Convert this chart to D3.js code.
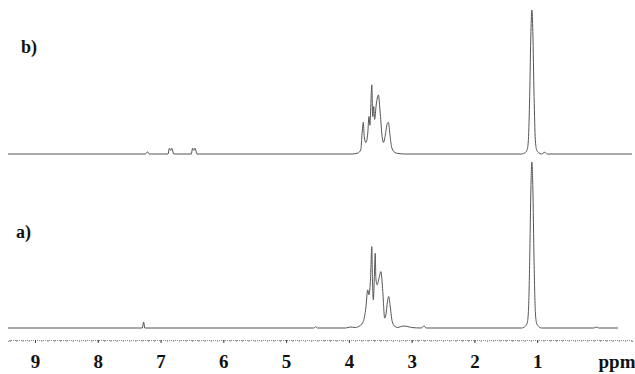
<!DOCTYPE html>
<html>
<head>
<meta charset="utf-8">
<script src="https://cdn.jsdelivr.net/npm/d3@7"></script>
<style>
  body { margin: 0; background: #fff; }
  text { font-family: "Liberation Serif", "Times New Roman", serif; font-weight: bold; fill: #111; }
</style>
</head>
<body>
<div id="chart"></div>
<script>
// spectrum b) : [ppm, relative intensity]
var specB = [
  [9.43, 0], [7.24, 0], [7.21, 1.5], [7.18, 0],
  [6.88, 0], [6.86, 4], [6.84, 2.5], [6.82, 4], [6.79, 0],
  [6.51, 0], [6.49, 4], [6.47, 2.5], [6.45, 4], [6.42, 0],
  [3.95, 0], [3.86, 0.6], [3.81, 3], [3.79, 14], [3.77, 22], [3.755, 12], [3.73, 8],
  [3.70, 14], [3.68, 26], [3.665, 20], [3.65, 34], [3.635, 48], [3.62, 26], [3.605, 33],
  [3.59, 24], [3.565, 34], [3.53, 41], [3.50, 28], [3.47, 12], [3.45, 8], [3.42, 13],
  [3.39, 21], [3.37, 22], [3.35, 15], [3.32, 5], [3.28, 1.5], [3.22, 0.4], [3.1, 0],
  [1.25, 0], [1.19, 1], [1.16, 3], [1.14, 10], [1.12, 40], [1.10, 85], [1.085, 100],
  [1.07, 85], [1.05, 40], [1.03, 10], [1.01, 3], [0.98, 1], [0.93, 0], [0.88, 1.2],
  [0.84, 0], [-0.51, 0]
];

// spectrum a)
var specA = [
  [9.43, 0], [7.29, 0], [7.27, 3.6], [7.25, 0],
  [4.56, 0], [4.53, 0.8], [4.50, 0],
  [4.05, 0], [3.98, 0.6], [3.90, 0.3], [3.82, 1.5], [3.77, 4], [3.73, 12], [3.70, 23],
  [3.68, 20], [3.655, 30], [3.635, 49], [3.625, 30], [3.61, 17], [3.595, 30], [3.58, 45],
  [3.57, 30], [3.55, 26], [3.52, 30], [3.49, 34], [3.46, 22], [3.43, 6], [3.41, 8],
  [3.385, 16], [3.365, 19], [3.345, 14], [3.31, 4], [3.27, 1], [3.22, 0.3], [3.14, 1.2],
  [3.08, 1], [3.0, 0.3], [2.85, 0], [2.80, 1.2], [2.77, 0],
  [1.25, 0], [1.19, 1], [1.16, 3], [1.14, 10], [1.12, 40], [1.10, 85], [1.085, 100],
  [1.07, 85], [1.05, 40], [1.03, 10], [1.01, 3], [0.98, 1], [0.93, 0],
  [0.10, 0], [0.05, 0.6], [0.02, 0], [-0.29, 0]
];

var tickLabels = [9, 8, 7, 6, 5, 4, 3, 2, 1];
var panelLabels = ["b)", "a)"];

var svgWidth = 635;
var svgHeight = 374;

var svg = d3.select("#chart")
  .append("svg")
  .attr("width", svgWidth)
  .attr("height", svgHeight);

var x = d3.scaleLinear()
  .domain([9.43, -0.51])
  .range([8, 632]);

// each trace has its own vertical scale
var yB = d3.scaleLinear().domain([0, 100]).range([154, 10]);
var yA = d3.scaleLinear().domain([0, 100]).range([328, 162]);

function drawTrace(data, y) {
  var line = d3.line()
    .x(d => x(d[0]))
    .y(d => y(d[1]))
    .curve(d3.curveMonotoneX);
  svg.append("path")
    .datum(data)
    .attr("fill", "none")
    .attr("stroke", "#555")
    .attr("stroke-width", 1)
    .attr("d", line);
}

drawTrace(specB, yB);
drawTrace(specA, yA);

// ppm axis: minor ticks every 0.1, major at integers
var axisY = 340;
var minor = d3.range(94, -51, -1).map(v => v / 10);

svg.append("g")
  .attr("transform", `translate(0, ${axisY})`)
  .call(d3.axisBottom(x).tickValues(minor).tickSize(2).tickFormat(""))
  .call(g => g.select(".domain").attr("stroke", "#888").attr("stroke-dasharray", "1,1"))
  .call(g => g.selectAll(".tick line").attr("stroke", "#999"));

svg.append("g")
  .attr("transform", `translate(0, ${axisY})`)
  .call(d3.axisBottom(x).tickValues(tickLabels).tickSize(3).tickPadding(12)
    .tickFormat(d3.format("d")))
  .call(g => g.select(".domain").remove())
  .call(g => g.selectAll(".tick line").attr("stroke", "#444"))
  .call(g => g.selectAll(".tick text")
    .attr("font-size", "19px")
    .attr("font-family", "Liberation Serif, Times New Roman, serif")
    .attr("font-weight", "bold")
    .attr("fill", "#111"));

svg.append("text")
  .attr("x", 617)
  .attr("y", 368)
  .attr("text-anchor", "middle")
  .attr("font-size", "19px")
  .text("ppm");

svg.append("text")
  .attr("x", 21)
  .attr("y", 53)
  .attr("font-size", "18px")
  .text(panelLabels[0]);

svg.append("text")
  .attr("x", 16)
  .attr("y", 238)
  .attr("font-size", "18px")
  .text(panelLabels[1]);
</script>
</body>
</html>
